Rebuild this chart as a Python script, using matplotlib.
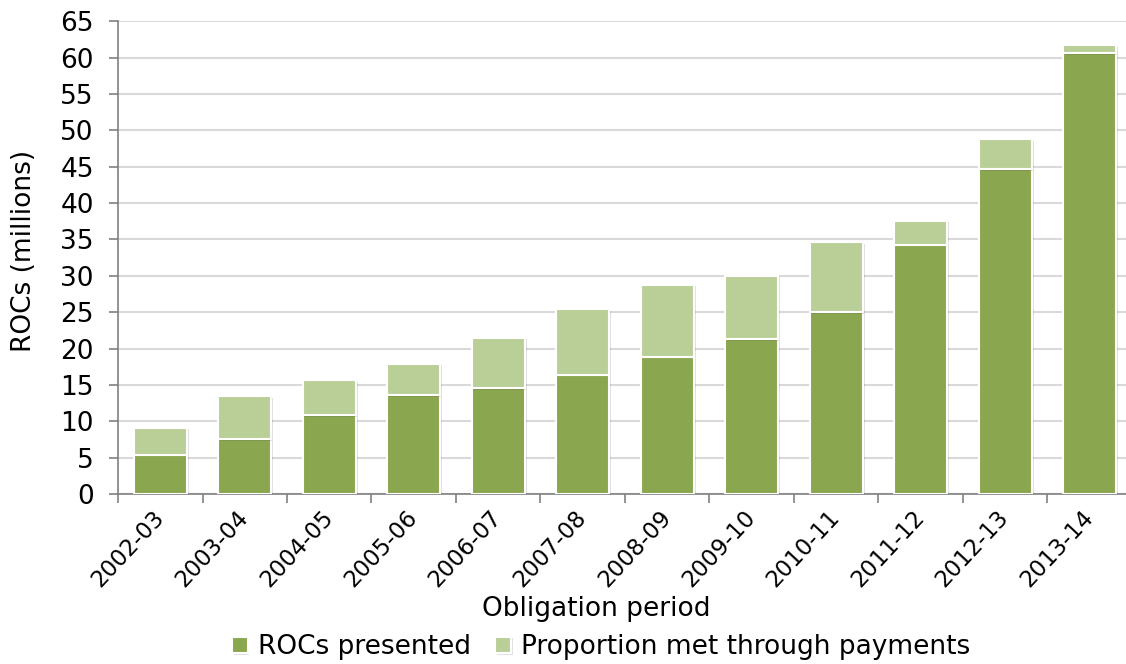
import matplotlib.pyplot as plt
import matplotlib.patheffects as pe
import numpy as np
from matplotlib.ticker import FixedLocator, NullFormatter

periods = ['2002-03', '2003-04', '2004-05', '2005-06', '2006-07', '2007-08',
           '2008-09', '2009-10', '2010-11', '2011-12', '2012-13', '2013-14']
# ROCs presented and total obligation (millions)
presented = [5.4, 7.5, 10.8, 13.6, 14.55, 16.4, 18.9, 21.25, 25.0, 34.3, 44.7, 60.65]
total = [9.1, 13.45, 15.65, 17.9, 21.5, 25.4, 28.8, 30.0, 34.6, 37.6, 48.75, 61.7]
payments = [t - p for t, p in zip(total, presented)]

dark = '#8aa64e'
light = '#bacf97'

plt.rcParams['font.family'] = 'DejaVu Sans'
fig = plt.figure(figsize=(11.26, 6.64), dpi=100)
# axes runs a little past the right edge, like the cropped original
ax = fig.add_axes([0.1048, 0.256, 0.9005, 0.712])

shadow = [pe.SimplePatchShadow(offset=(1.2, -1.2), shadow_rgbFace='#000000', alpha=0.12),
          pe.Normal()]
x = np.arange(len(periods))
b1 = ax.bar(x, presented, width=0.63, color=dark, edgecolor='white', linewidth=1.5,
            label='ROCs presented', zorder=3)
b2 = ax.bar(x, payments, width=0.63, bottom=presented, color=light, edgecolor='white',
            linewidth=1.5, label='Proportion met through payments', zorder=3)
for bar in list(b1) + list(b2):
    bar.set_path_effects(shadow)

ax.set_xlim(-0.5, len(periods) - 0.5)
ax.set_ylim(0, 65)
ax.set_yticks(range(0, 70, 5))
ax.yaxis.grid(True, color='#d9d9d9', linewidth=1.5, zorder=0)

# ticks on the category boundaries, labels under the bars
ax.xaxis.set_major_locator(FixedLocator(np.arange(-0.5, len(periods), 1.0)))
ax.xaxis.set_major_formatter(NullFormatter())
ax.xaxis.set_minor_locator(FixedLocator(x))
ax.set_xticklabels(periods, minor=True, rotation=47, ha='right', va='center',
                   rotation_mode='anchor')
ax.tick_params(axis='x', which='minor', length=0, labelsize=16.5, pad=14)
ax.tick_params(axis='x', which='major', length=6.5, color='#808080', width=1.2)
ax.tick_params(axis='y', labelsize=19, length=6.5, color='#808080', width=1.2, pad=11)

for s in ['top', 'right']:
    ax.spines[s].set_visible(False)
for s in ['left', 'bottom']:
    ax.spines[s].set_color('#808080')
    ax.spines[s].set_linewidth(1.2)

ax.set_ylabel('ROCs (millions)', fontsize=19, va='center')
ax.yaxis.set_label_coords(-0.093, 0.515)
ax.set_xlabel('Obligation period', fontsize=19, va='center')
ax.xaxis.set_label_coords(0.472, -0.243)

fig.legend(*ax.get_legend_handles_labels(), loc='center', bbox_to_anchor=(0.534, 0.025),
           ncol=2, frameon=False, fontsize=19, handlelength=0.6, handleheight=0.6,
           handletextpad=0.4, columnspacing=0.9, borderaxespad=0, borderpad=0)

fig.savefig('out.png', dpi=100)
